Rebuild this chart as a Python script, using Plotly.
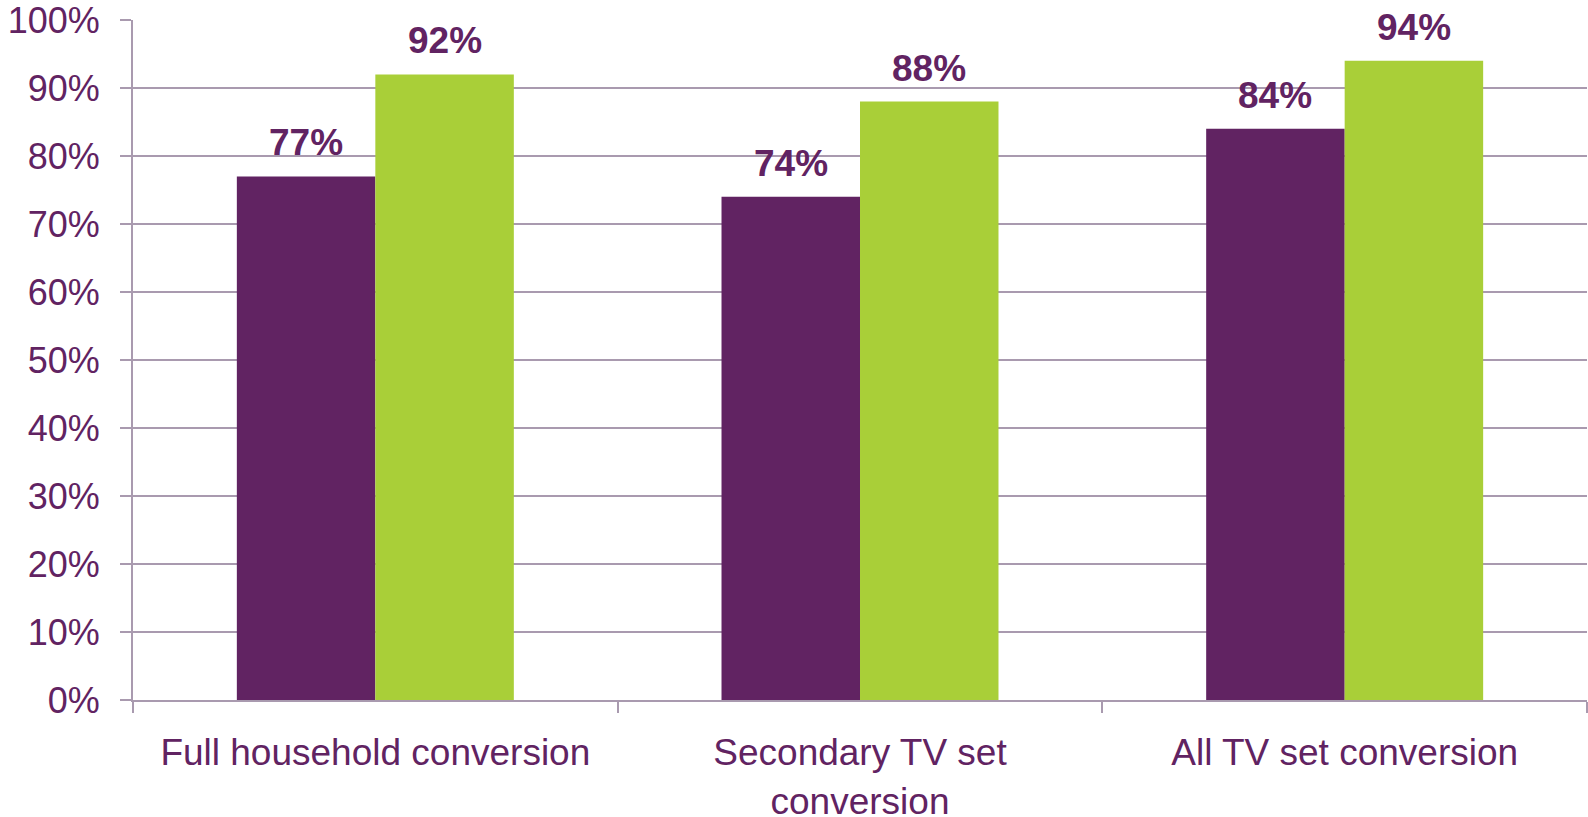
import plotly.graph_objects as go

categories = ["Full household conversion", "Secondary TV set<br>conversion", "All TV set conversion"]
series_a = [77, 74, 84]
series_b = [92, 88, 94]
y_ticks = list(range(0, 101, 10))
y_tick_labels = [f"{v}%" for v in y_ticks]

PURPLE = "#612362"
GREEN = "#A9CF38"
GRID = "#A99AAF"
FONT = "Liberation Sans, Arial, sans-serif"

fig = go.Figure()
fig.add_trace(go.Bar(x=categories, y=series_a, marker=dict(color=PURPLE, line=dict(width=0)), name="A"))
fig.add_trace(go.Bar(x=categories, y=series_b, marker=dict(color=GREEN, line=dict(width=0)), name="B"))

bar_px = 138.5
annotations = []
for cat, va, vb in zip(categories, series_a, series_b):
    for v, sh in ((va, -bar_px / 2), (vb, bar_px / 2)):
        annotations.append(dict(
            x=cat, y=v, xref="x", yref="y", text=f"<b>{v}%</b>", showarrow=False,
            xanchor="center", yanchor="bottom", xshift=sh, yshift=11,
            font=dict(family=FONT, size=37, color=PURPLE),
        ))

fig.update_layout(
    width=1588, height=817,
    margin=dict(l=133, r=1, t=20, b=117, pad=0),
    paper_bgcolor="white", plot_bgcolor="white",
    barmode="group", bargap=0.4285, bargroupgap=0,
    showlegend=False,
    annotations=annotations,
    font=dict(family=FONT, color=PURPLE),
)
fig.update_xaxes(
    automargin=False,
    showline=True, linecolor=GRID, linewidth=2,
    ticks="outside", tickson="boundaries", ticklen=11, tickwidth=2, tickcolor=GRID,
    ticklabelstandoff=19, ticklabeloverflow="allow",
    tickfont=dict(family=FONT, size=37, color=PURPLE),
    showgrid=False,
)
fig.update_yaxes(
    automargin=False,
    range=[0, 100], tickvals=y_ticks, ticktext=y_tick_labels,
    showline=True, linecolor=GRID, linewidth=2,
    ticks="outside", ticklen=11, tickwidth=2, tickcolor=GRID,
    ticklabelstandoff=13, ticklabeloverflow="allow",
    showgrid=True, gridcolor=GRID, gridwidth=2, zeroline=False,
    tickfont=dict(family=FONT, size=36, color=PURPLE),
)

fig.write_html(
    "out.html",
    config={"displayModeBar": False},
    post_script="document.body.style.margin='0';document.body.style.overflow='hidden';",
)
